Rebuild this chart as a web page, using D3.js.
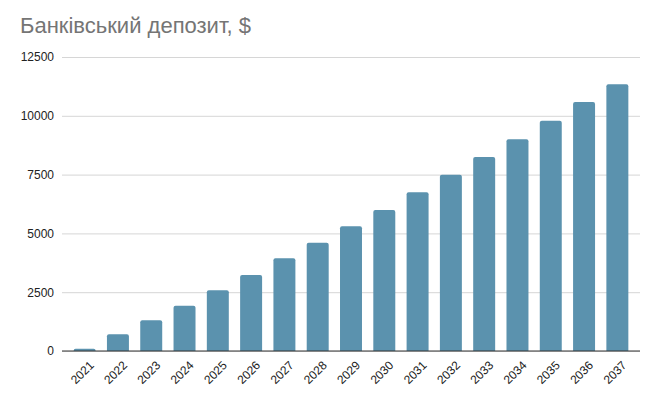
<!DOCTYPE html>
<html>
<head>
<meta charset="utf-8">
<script src="https://cdn.jsdelivr.net/npm/d3@7"></script>
<style>
	body { margin: 0; background: #fff; }
	svg { display: block; font-family: "Liberation Sans", Arial, sans-serif; }
</style>
</head>
<body>
<div id="chart"></div>
<script>
const years = ["2021", "2022", "2023", "2024", "2025", "2026", "2027", "2028", "2029",
	"2030", "2031", "2032", "2033", "2034", "2035", "2036", "2037"];
const deposit = [100, 710, 1305, 1925, 2580, 3230, 3940, 4605, 5300,
	5995, 6745, 7495, 8250, 9000, 9790, 10590, 11340];
const yTicks = [0, 2500, 5000, 7500, 10000, 12500];

const width = 657;
const height = 401;
const margin = { top: 57, right: 17, bottom: 50, left: 62 };

const svg = d3
	.select("#chart")
	.append("svg")
	.attr("width", width)
	.attr("height", height);

svg.append("text")
	.attr("x", 20)
	.attr("y", 33)
	.style("font-size", "22px")
	.style("fill", "#757575")
	.text("Банківський депозит, $");

const x = d3
	.scaleBand()
	.domain(years)
	.range([margin.left, width - margin.right])
	.paddingInner(0.34)
	.paddingOuter(0.35);

const y = d3
	.scaleLinear()
	.domain([0, 12500])
	.range([height - margin.bottom, margin.top]);

// gridlines + y labels
const yAxis = svg
	.append("g")
	.attr("transform", `translate(${margin.left},0)`)
	.call(
		d3.axisLeft(y)
			.tickValues(yTicks)
			.tickFormat(d3.format("d"))
			.tickSize(-(width - margin.left - margin.right))
			.tickPadding(8)
	);
yAxis.select(".domain").remove();
yAxis.selectAll(".tick line").attr("stroke", "#d6d6d6");
yAxis.selectAll(".tick text")
	.style("font-size", "12px")
	.style("fill", "#222")
	.attr("font-family", null);

const r = 2;
svg.append("g")
	.selectAll("path")
	.data(years.map((d, i) => ({ year: d, value: deposit[i] })))
	.join("path")
	.attr("fill", "#5b92ae")
	.attr("d", (d) => {
		const x0 = x(d.year);
		const w = x.bandwidth();
		const y0 = y(d.value);
		const yb = y(0);
		const rr = Math.min(r, yb - y0);
		return `M${x0},${yb}V${y0 + rr}Q${x0},${y0} ${x0 + rr},${y0}H${x0 + w - rr}Q${x0 + w},${y0} ${x0 + w},${y0 + rr}V${yb}Z`;
	});

// baseline
svg.append("line")
	.attr("x1", margin.left)
	.attr("x2", width - margin.right)
	.attr("y1", y(0))
	.attr("y2", y(0))
	.attr("stroke", "#333")
	.attr("stroke-width", 1);

// x labels rotated
svg.append("g")
	.selectAll("text")
	.data(years)
	.join("text")
	.attr("transform", (d) => `translate(${x(d) + x.bandwidth() / 2 + 7},${y(0) + 12}) rotate(-45)`)
	.attr("text-anchor", "end")
	.attr("dy", "0.35em")
	.style("font-size", "12px")
	.style("fill", "#222")
	.text((d) => d);
</script>
</body>
</html>
